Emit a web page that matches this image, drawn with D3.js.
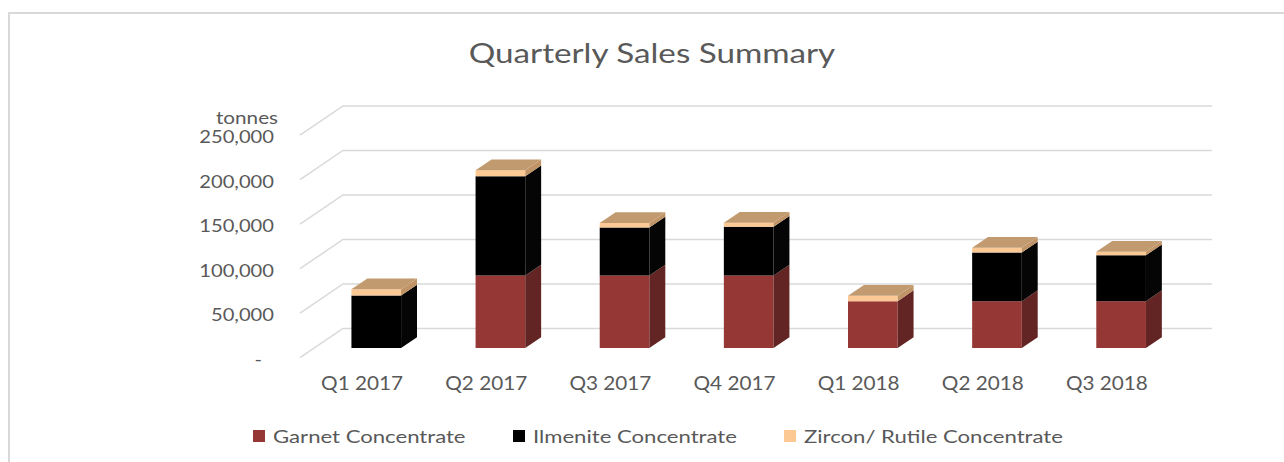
<!DOCTYPE html>
<html>
<head>
<meta charset="utf-8">
<script src="https://cdn.jsdelivr.net/npm/d3@7"></script>
<style>
  html, body { margin: 0; padding: 0; background: #fff; }
  svg { display: block; }
  text { font-family: Lato, "Open Sans", sans-serif; fill: #595959; }
</style>
</head>
<body>
<svg id="chart" width="1284" height="462"></svg>
<script>
// ---- data ----
const categories = ["Q1 2017", "Q2 2017", "Q3 2017", "Q4 2017", "Q1 2018", "Q2 2018", "Q3 2018"];
const seriesNames = ["Garnet Concentrate", "Ilmenite Concentrate", "Zircon/ Rutile Concentrate"];
const garnet   = [0, 81500, 81500, 81500, 52700, 52700, 52700];
const ilmenite = [59000, 111600, 54000, 54700, 0, 54700, 51500];
const zircon   = [7000, 6700, 5000, 4500, 6000, 5200, 4000];
const yTicks = [0, 50000, 100000, 150000, 200000, 250000];
const titleText = "Quarterly Sales Summary";
const unitText = "tonnes";

// ---- styles ----
const faceColors = [
  { front: "#953735", side: "#632523", top: "#b4524f" },
  { front: "#000000", side: "#050505", top: "#222222" },
  { front: "#fcc893", side: "#c09467", top: "#c29a6f" }
];

const svg = d3.select("#chart");

// text helper with horizontal stretch (reference glyphs are wide)
function addText(px, py, str, size, anchor, sx) {
  return svg.append("text")
    .attr("transform", `translate(${px},${py}) scale(${sx},1)`)
    .attr("text-anchor", anchor).attr("dominant-baseline", "central")
    .style("font-size", size + "px")
    .text(str);
}

// frame border
svg.append("rect")
  .attr("x", 9).attr("y", 13).attr("width", 1300).attr("height", 480)
  .attr("fill", "none").attr("stroke", "#d9d9d9").attr("stroke-width", 2);

// title
addText(652, 52, titleText, 27, "middle", 1.23);

// ---- 3D projection ----
const X0 = 300, Y0 = 357.7;      // front-left-bottom corner of plot
const DX = 43, DY = 29.2;        // full depth offset
const plotW = 869;

const x = d3.scaleBand().domain(categories).range([0, plotW]).paddingInner(0.6).paddingOuter(0.3);
const y = d3.scaleLinear().domain([0, 250000]).range([0, 222.5]);

const P = (px, v, z) => [X0 + px + z * DX, Y0 - y(v) - z * DY];

const grid = svg.append("g");
yTicks.forEach(t => {
  const a = P(0, t, 0), b = P(0, t, 1), c = P(plotW, t, 1);
  grid.append("path")
    .attr("d", `M${a[0]},${a[1]}L${b[0]},${b[1]}L${c[0]},${c[1]}`)
    .attr("fill", "none").attr("stroke", "#d9d9d9").attr("stroke-width", 1.5);
});

// y tick labels
const fmt = d3.format(",");
yTicks.forEach(t => {
  const p = P(0, t, 0);
  addText(t === 0 ? 262 : 274, p[1] + 1, t === 0 ? "-" : fmt(t), 18, "end", 1.12);
});
addText(278, 117, unitText, 18, "end", 1.15);

// category labels
categories.forEach(c => {
  const p = P(x(c) + x.bandwidth() / 2, 0, 0);
  addText(p[0], 383, c, 18.5, "middle", 1.12);
});

// bars
const series = [garnet, ilmenite, zircon];
const zF = 0.33, zB = 0.70;
const bars = svg.append("g");
categories.forEach((c, i) => {
  const L = x(c), R = x(c) + x.bandwidth();
  let base = 0;
  const segs = [];
  series.forEach((s, k) => {
    const v = s[i];
    if (v > 0) { segs.push({ k, b0: base, b1: base + v }); base += v; }
  });
  segs.forEach((sg, j) => {
    const col = faceColors[sg.k];
    const g = bars.append("g");
    const f = [P(L, sg.b0, zF), P(R, sg.b0, zF), P(R, sg.b1, zF), P(L, sg.b1, zF)];
    g.append("polygon").attr("points", f.map(p => p.join(",")).join(" ")).attr("fill", col.front);
    const sd = [P(R, sg.b0, zF), P(R, sg.b0, zB), P(R, sg.b1, zB), P(R, sg.b1, zF)];
    g.append("polygon").attr("points", sd.map(p => p.join(",")).join(" ")).attr("fill", col.side);
    if (j === segs.length - 1) {
      const tp = [P(L, sg.b1, zF), P(R, sg.b1, zF), P(R, sg.b1, zB), P(L, sg.b1, zB)];
      g.append("polygon").attr("points", tp.map(p => p.join(",")).join(" ")).attr("fill", col.top);
    }
  });
});

// legend
const legendX = [253, 513, 784];
seriesNames.forEach((n, k) => {
  svg.append("rect")
    .attr("x", legendX[k]).attr("y", 430).attr("width", 12).attr("height", 12)
    .attr("fill", faceColors[k].front);
  addText(legendX[k] + 20, 436, n, 18, "start", 1.23);
});
</script>
</body>
</html>
